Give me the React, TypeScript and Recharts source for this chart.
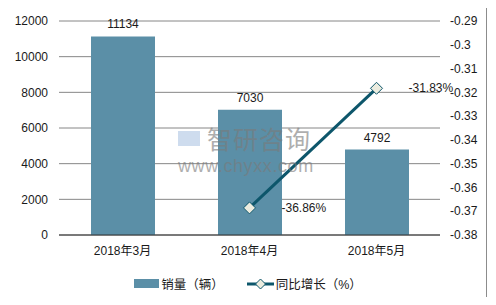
import React from 'react';
import { ComposedChart, Bar, Line, XAxis, YAxis, CartesianGrid, LabelList, Legend } from 'recharts';

const months = ['2018年3月', '2018年4月', '2018年5月'];
const sales = [11134, 7030, 4792];
const growth: (number | null)[] = [null, -0.3686, -0.3183];
const leftTicks = [0, 2000, 4000, 6000, 8000, 10000, 12000];
const rightTicks = [-0.38, -0.37, -0.36, -0.35, -0.34, -0.33, -0.32, -0.31, -0.3, -0.29];
const seriesNames = ['销量（辆）', '同比增长（%）'];

const data = months.map((m, i) => ({ month: m, sales: sales[i], growth: growth[i] }));

const BAR = '#5b8fa7';
const LINE = '#0d566b';
const MARK_FILL = '#ececdf';
const FONT = '"Liberation Sans", Arial, "Noto Sans CJK SC", sans-serif';
const TXT = '#1a1a1a';

const Diamond = (props: any) => {
  const { cx, cy, index } = props;
  if (cx == null || cy == null || props.value == null) return <g key={`d${index}`} />;
  const r = 6;
  return (
    <path
      key={`d${index}`}
      d={`M${cx},${cy - r}L${cx + r},${cy}L${cx},${cy + r}L${cx - r},${cy}Z`}
      fill={MARK_FILL}
      stroke={LINE}
      strokeWidth={1}
    />
  );
};

const LineLabel = (props: any) => {
  const { x, y, value } = props;
  if (value == null || x == null || y == null) return null;
  return (
    <text x={x + 32} y={y} dy="0.35em" textAnchor="start" fontSize={12} fill={TXT} fontFamily={FONT}>
      {(value * 100).toFixed(2) + '%'}
    </text>
  );
};

const LegendContent = () => (
  <div style={{ display: 'flex', justifyContent: 'center', alignItems: 'center', fontFamily: FONT, fontSize: 12.5, color: TXT }}>
    <span style={{ display: 'inline-block', width: 25, height: 9, background: BAR, marginRight: 2 }} />
    <span style={{ marginRight: 23 }}>{seriesNames[0]}</span>
    <svg width={27} height={12} style={{ marginRight: 2 }}>
      <line x1={0} y1={6} x2={27} y2={6} stroke={LINE} strokeWidth={3} />
      <path d="M13.5,1L18.5,6L13.5,11L8.5,6Z" fill={MARK_FILL} stroke={LINE} strokeWidth={1} />
    </svg>
    <span>{seriesNames[1]}</span>
  </div>
);

export default function App() {
  return (
    <div style={{ position: 'relative', width: 496, height: 305, margin: -8, background: '#fff' }}>
      <ComposedChart width={496} height={305} data={data} margin={{ top: 21, right: 0, left: 0, bottom: 40 }}>
        <CartesianGrid yAxisId="left" vertical={false} stroke="#868686" strokeWidth={1} />
        <XAxis
          dataKey="month"
          height={30}
          tickSize={0}
          tickMargin={11}
          axisLine={{ stroke: '#303030', strokeWidth: 1 }}
          tickLine={false}
          tick={{ fontSize: 12, fill: TXT, fontFamily: FONT }}
        />
        <YAxis
          yAxisId="left"
          width={59}
          domain={[0, 12000]}
          ticks={leftTicks}
          axisLine={false}
          tickLine={false}
          tickSize={0}
          tickMargin={11}
          tick={{ fontSize: 12, fill: TXT, fontFamily: FONT }}
        />
        <YAxis
          yAxisId="right"
          orientation="right"
          width={56}
          domain={[-0.38, -0.29]}
          ticks={rightTicks}
          tickFormatter={(v: number) => String(Math.round(v * 100) / 100)}
          axisLine={false}
          tickLine={false}
          tickSize={0}
          tickMargin={10}
          tick={{ fontSize: 12, fill: TXT, fontFamily: FONT }}
        />
        <Legend
          layout="horizontal"
          verticalAlign="middle"
          align="center"
          content={LegendContent}
          wrapperStyle={{ top: 274, left: 0, width: 496 }}
        />
        <Bar yAxisId="left" dataKey="sales" name={seriesNames[0]} fill={BAR} barSize={64} isAnimationActive={false}>
          <LabelList dataKey="sales" position="top" offset={8} style={{ fontSize: 12, fill: TXT, fontFamily: FONT }} />
        </Bar>
        <Line
          yAxisId="right"
          dataKey="growth"
          name={seriesNames[1]}
          stroke={LINE}
          strokeWidth={3}
          dot={Diamond}
          activeDot={false}
          isAnimationActive={false}
        >
          <LabelList dataKey="growth" content={LineLabel} />
        </Line>
      </ComposedChart>
      <div style={{ position: 'absolute', left: 178, top: 125, opacity: 0.6, pointerEvents: 'none', fontFamily: FONT, color: '#7a7a7a' }}>
        <div style={{ display: 'flex', alignItems: 'center', height: 26 }}>
          <div style={{ width: 22, height: 15, background: '#9ab6dc', marginRight: 7, opacity: 0.8 }} />
          <span style={{ fontSize: 25, lineHeight: '26px', fontFamily: '"Noto Sans CJK SC", sans-serif', letterSpacing: 1 }}>智研咨询</span>
        </div>
        <div style={{ fontSize: 18, lineHeight: '20px', marginTop: 5, letterSpacing: 0.6 }}>www.chyxx.com</div>
      </div>
      <div style={{ position: 'absolute', left: 7, top: 6, width: 480, height: 295, border: '1px solid #8c8c8c', boxSizing: 'border-box', pointerEvents: 'none' }} />
    </div>
  );
}
